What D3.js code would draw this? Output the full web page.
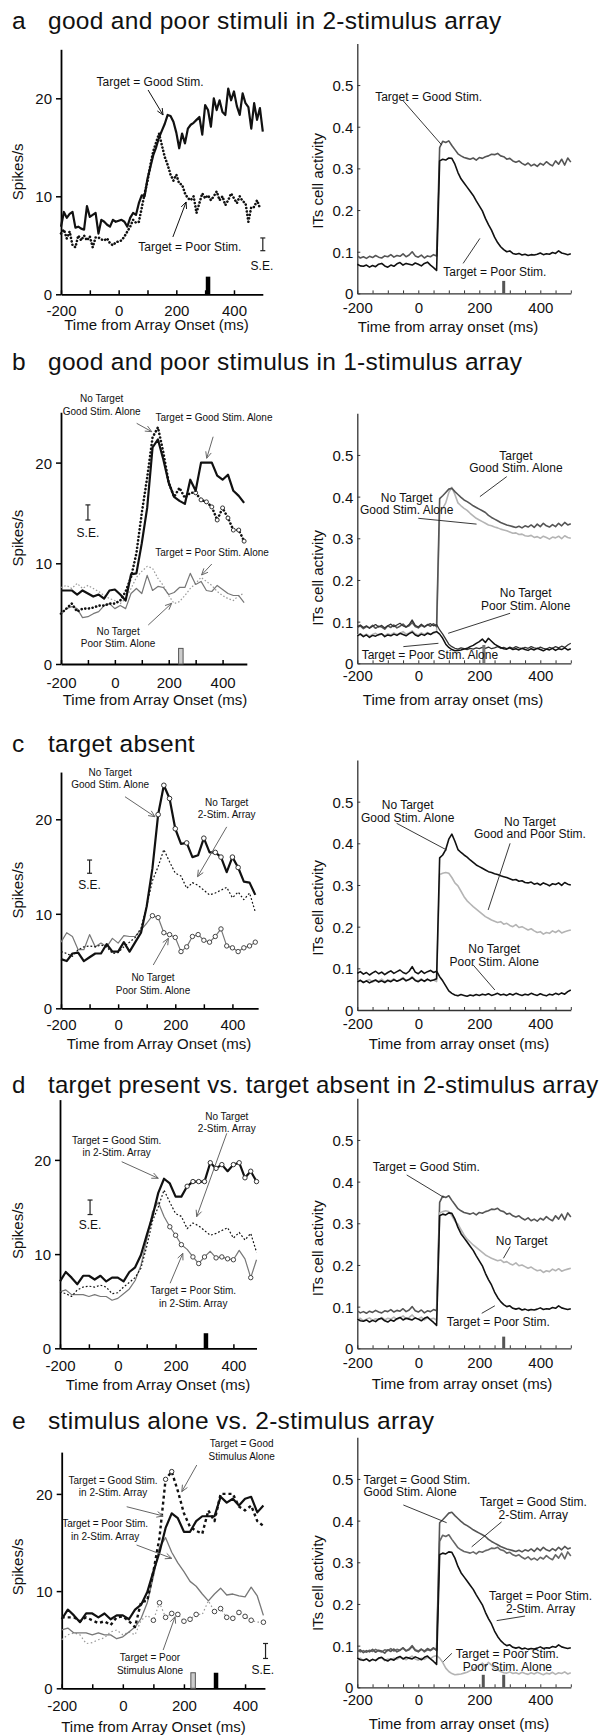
<!DOCTYPE html>
<html><head><meta charset="utf-8">
<script src="https://cdn.jsdelivr.net/npm/d3@7"></script>
<style>
html,body{margin:0;padding:0;background:#fff;}
svg{display:block;}
</style></head><body>
<svg id="fig" width="616" height="1736"></svg>
<script>
// ================= DATA =================
// tick definitions
const LEFT_X_TICKS = [-200,-100,0,100,200,300,400];
const LEFT_X_LABELS = [-200,0,200,400];
const LEFT_Y_TICKS = [0,10,20];
const RIGHT_X_TICKS = [-200,-150,-100,-50,0,50,100,150,200,250,300,350,400,450,500];
const RIGHT_X_LABELS = [-200,0,200,400];
const RIGHT_Y_TICKS = [0,0.1,0.2,0.3,0.4,0.5];

// panel titles
const panelLetters = ["a","b","c","d","e"];
const panelTitles = [
  "good and poor stimuli in 2-stimulus array",
  "good and poor stimulus in 1-stimulus array",
  "target absent",
  "target present vs. target absent in 2-stimulus array",
  "stimulus alone vs. 2-stimulus array"
];

// ---- recorded spikes/s, panel a : 10 ms bins starting at -200 ms ----
const aGoodSpikes = [6.9,8.4,7.8,8.2,8.4,6.8,6.9,6.7,6.6,9.0, 7.9,8.1,8.3,6.2,7.6,7.4,7.1,6.9,7.6,7.4,
  7.5,7.6,7.4,6.9,7.8,8.3,8.1,9.3,10.1,10.0, 11.8,13.0,14.2,15.0,16.0,16.7,17.4,18.3,18.2,17.6,
  16.5,14.9,16.4,15.4,16.9,17.3,17.5,17.8,18.1,16.3, 19.3,18.8,17.1,20.0,18.8,19.8,18.6,18.3,21.0,19.8,
  20.7,19.2,18.3,20.5,19.5,19.1,16.9,19.5,17.8,19.0, 16.6];
const aPoorSpikes = [6.2,6.6,5.7,6.4,5.0,4.8,6.0,5.5,6.0,5.5, 5.9,4.8,5.8,5.8,5.6,5.5,5.7,5.2,5.0,5.3,
  5.4,5.5,5.9,6.4,6.9,7.6,7.3,7.4,8.8,10.3, 11.5,13.2,14.6,15.5,16.4,15.2,14.0,13.2,12.2,11.6,
  12.2,11.3,11.2,10.3,9.8,9.6,10.0,8.3,9.3,10.3, 9.8,10.1,9.6,10.0,10.5,9.6,10.0,9.1,9.6,10.3,
  9.8,9.3,10.0,9.5,9.3,7.4,8.9,8.9,9.6,8.8];

// ---- recorded spikes/s, panels b-e : 20 ms bins starting at -200 ms ----
const goodAloneTargetSpikes = [7.3,7.3,7.3,6.9,7.3,7.0,6.7,6.9,6.5,7.3,7.4,6.9,6.3,8.9,9.0,12.0,15.5,21.5,22.3,20.3,
  18.0,16.6,16.2,15.9,18.3,17.2,20.0,20.0,20.0,18.7,18.3,18.8,17.2,16.7,16.0];
const goodAloneNoTargetSpikes = [5.0,5.5,6.0,5.2,5.5,5.5,5.6,5.8,5.8,6.0,6.0,6.3,7.2,8.6,11.0,15.0,18.5,22.5,23.5,21.0,
  18.0,16.6,17.5,16.5,17.0,17.0,16.3,16.1,15.6,14.3,15.5,14.5,13.3,13.3,12.2];
const poorAloneTargetSpikes = [5.0,5.5,5.7,5.5,4.6,4.7,5.0,5.2,5.8,6.0,5.5,5.8,5.5,7.0,7.5,7.0,8.8,7.3,7.7,7.6,
  6.9,7.1,7.6,7.6,9.0,7.9,8.2,7.3,7.2,7.8,7.4,7.0,6.8,6.8,6.1];
const poorAloneNoTargetSpikes = [7.6,7.8,7.5,8.0,7.5,7.8,7.5,7.2,6.8,6.5,6.3,6.0,6.5,7.5,8.6,9.2,9.7,9.5,8.5,7.8,
  6.8,6.0,6.2,6.8,7.5,8.0,8.6,8.2,7.8,7.2,6.8,6.5,6.3,6.8,7.0];
const cGoodAloneNoTargetSpikes = [5.2,5.0,5.8,5.9,5.0,5.4,5.8,5.8,6.8,6.0,6.0,7.0,6.0,7.0,8.0,10.8,14.8,20.5,23.6,22.2,
  19.0,17.4,17.5,16.0,16.2,18.0,16.5,16.5,16.0,14.4,16.0,14.9,13.4,13.3,12.0];
const cPoorAloneNoTargetSpikes = [7.0,8.0,7.6,6.2,6.2,7.8,6.5,6.9,6.5,7.4,6.9,7.7,7.6,7.6,8.3,9.0,9.8,9.6,8.0,7.8,
  7.5,6.0,6.5,7.6,7.8,7.2,7.0,7.6,8.4,6.6,6.4,6.0,6.4,6.6,7.0];
const noTarget2StimSpikes = [6.0,5.8,5.5,6.2,6.5,6.6,6.5,6.7,6.5,5.8,5.9,6.5,7.0,7.5,8.5,10.8,13.5,15.0,16.8,15.5,
  14.3,14.0,12.7,13.3,13.0,12.5,12.0,12.2,12.5,12.8,11.7,12.3,11.5,12.2,10.2];
const good2StimSpikes = [7.1,8.1,7.5,6.8,7.7,7.7,7.3,7.7,7.1,7.5,7.5,7.1,8.1,8.6,9.9,12.0,14.0,16.5,18.0,17.5,
  16.1,16.1,17.2,17.7,17.7,17.7,19.7,19.1,19.5,18.8,19.5,19.7,18.1,18.8,17.7];
const poor2StimSpikes = [6.0,6.2,5.7,5.7,5.7,5.5,5.7,5.5,5.5,5.1,5.3,5.8,6.3,7.2,8.8,11.5,14.5,15.5,14.0,12.9,
  12.0,11.0,10.5,9.7,9.0,9.7,10.3,9.6,9.7,9.5,9.4,10.4,9.5,7.5,9.4];

// circle marker times (ms)
const cGoodCircleTimes = [140,160,180,200,240,300,340,360,400,420];
const cPoorCircleTimes = [120,140,160,180,200,220,240,260,280,300,320,340,360,380,400,420,440,460,480];
const bNoTargetCircleTimes = [300,320,340,360,380,400,420,440,460,480];
const dGoodCircleTimes = [240,260,280,300,320,340,360,400,420,440,460,480];
const dPoorCircleTimes = [180,200,220,260,280,300,340,360,380,400,460];
const eGoodAloneCircleTimes = [140,160];
const ePoorAloneCircleTimes = [100,120,140,160,180,200,220,240,300,320,340,360,380,400,420,460];

// ---- model ITs cell activity : 10 ms steps starting at -200 ms ----
const modelGood2Stim = [0.090,0.085,0.088,0.084,0.089,0.086,0.091,0.087,0.085,0.090,0.088,0.093,0.087,0.091,0.089,0.095,0.088,0.092,0.100,0.090,0.087,0.092,0.085,0.090,0.088,0.093,0.090,
  0.350,0.365,0.362,0.366,0.355,0.345,0.335,0.330,0.326,0.324,0.322,0.325,0.320,0.326,0.324,0.328,0.330,0.334,0.333,0.336,0.330,0.328,0.322,0.324,0.318,0.315,0.318,0.312,0.308,0.313,0.306,0.310,0.305,0.312,0.308,0.316,0.310,0.306,0.318,0.310,0.322,0.308,0.325,0.315];
const modelPoor2Stim = [0.070,0.066,0.065,0.068,0.063,0.067,0.064,0.070,0.072,0.066,0.063,0.068,0.065,0.071,0.074,0.068,0.072,0.070,0.068,0.073,0.070,0.066,0.072,0.075,0.068,0.062,0.055,
  0.318,0.322,0.320,0.325,0.324,0.310,0.290,0.275,0.265,0.255,0.245,0.235,0.222,0.210,0.198,0.180,0.165,0.152,0.135,0.122,0.112,0.105,0.100,0.102,0.096,0.094,0.096,0.092,0.094,0.091,0.093,0.092,0.094,0.097,0.093,0.095,0.094,0.098,0.096,0.102,0.097,0.095,0.093,0.095];
const modelNoTarget2Stim = [0.068,0.072,0.066,0.070,0.073,0.067,0.071,0.069,0.074,0.068,0.072,0.070,0.075,0.069,0.073,0.078,0.071,0.074,0.080,0.072,0.070,0.075,0.068,0.073,0.070,0.072,0.068,
  0.325,0.328,0.330,0.328,0.318,0.305,0.298,0.285,0.272,0.262,0.255,0.248,0.242,0.236,0.230,0.224,0.220,0.216,0.213,0.210,0.212,0.206,0.208,0.203,0.200,0.205,0.198,0.200,0.196,0.192,0.195,0.190,0.186,0.188,0.182,0.186,0.184,0.190,0.186,0.191,0.185,0.188,0.190,0.192];
const modelGoodAloneTarget = [0.086,0.090,0.083,0.088,0.085,0.091,0.084,0.089,0.087,0.082,0.090,0.086,0.092,0.085,0.089,0.094,0.087,0.090,0.098,0.088,0.085,0.091,0.087,0.093,0.089,0.095,0.088,
  0.395,0.402,0.410,0.418,0.420,0.412,0.405,0.398,0.392,0.388,0.383,0.378,0.374,0.370,0.366,0.362,0.355,0.350,0.346,0.342,0.338,0.335,0.332,0.330,0.328,0.326,0.329,0.325,0.330,0.327,0.332,0.326,0.334,0.328,0.336,0.330,0.327,0.333,0.328,0.336,0.330,0.338,0.332,0.335];
const modelGoodAloneNoTarget = [0.068,0.071,0.066,0.070,0.065,0.069,0.072,0.067,0.070,0.066,0.071,0.068,0.073,0.069,0.072,0.076,0.070,0.073,0.078,0.071,0.068,0.073,0.069,0.074,0.070,0.072,0.075,
  0.365,0.372,0.385,0.410,0.422,0.405,0.385,0.378,0.372,0.367,0.360,0.354,0.348,0.344,0.340,0.336,0.332,0.330,0.327,0.325,0.322,0.320,0.318,0.315,0.312,0.313,0.309,0.310,0.306,0.305,0.307,0.302,0.304,0.300,0.305,0.302,0.298,0.303,0.301,0.305,0.299,0.306,0.302,0.300];
const modelPoorAloneTarget = [0.066,0.070,0.064,0.068,0.062,0.067,0.065,0.069,0.071,0.064,0.068,0.066,0.070,0.067,0.072,0.069,0.066,0.071,0.075,0.068,0.065,0.070,0.067,0.072,0.069,0.074,0.076,
  0.070,0.060,0.046,0.038,0.033,0.030,0.031,0.032,0.034,0.036,0.040,0.043,0.048,0.052,0.058,0.050,0.060,0.053,0.046,0.042,0.038,0.035,0.034,0.037,0.033,0.035,0.032,0.036,0.033,0.031,0.035,0.032,0.036,0.033,0.030,0.034,0.032,0.036,0.031,0.035,0.033,0.037,0.032,0.035];
const modelPoorAloneNoTarget = [0.088,0.092,0.086,0.090,0.084,0.089,0.093,0.087,0.091,0.085,0.090,0.094,0.088,0.092,0.096,0.090,0.087,0.093,0.104,0.091,0.087,0.094,0.088,0.092,0.095,0.090,0.093,
  0.080,0.070,0.058,0.046,0.040,0.036,0.034,0.037,0.035,0.033,0.036,0.034,0.037,0.035,0.038,0.036,0.039,0.035,0.037,0.040,0.036,0.038,0.035,0.039,0.036,0.040,0.037,0.035,0.038,0.036,0.040,0.037,0.035,0.039,0.036,0.034,0.038,0.036,0.040,0.037,0.041,0.038,0.044,0.048];

// ================= DRAWING =================
const FONT = '"Liberation Sans", Arial, Helvetica, sans-serif';
const BLACK = "#111", DARK = "#555", LIGHT = "#b4b4b4", MID = "#777";
const svg = d3.select("#fig").attr("font-family", FONT);
svg.append("rect").attr("width", 616).attr("height", 1736).attr("fill", "#fff");

const series = (vals, start, step) => vals.map((v, i) => ({t: start + i * step, v}));

function makePanel(cfg, right) {
  const x = d3.scaleLinear().domain([-200, cfg.xEnd]).range([cfg.left, cfg.left + (cfg.xEnd + 200) * cfg.ppm]);
  const y = d3.scaleLinear().domain([0, cfg.yTop]).range([cfg.bottom, cfg.bottom - cfg.yTop * cfg.ppu]);
  const g = svg.append("g");
  const axisColor = right ? "#333" : "#000";
  const w = right ? 1.3 : 1.8;
  const xa = d3.axisBottom(x).tickValues(right ? RIGHT_X_TICKS : LEFT_X_TICKS)
    .tickFormat(d => (right ? RIGHT_X_LABELS : LEFT_X_LABELS).includes(d) ? String(d) : "")
    .tickSizeInner(right ? -3 : -4).tickSizeOuter(0);
  const ya = d3.axisLeft(y).tickValues(right ? RIGHT_Y_TICKS : LEFT_Y_TICKS)
    .tickFormat(d => right ? (d === 0 ? "0" : d.toFixed(1)) : String(d))
    .tickSizeInner(right ? -3 : 5).tickSizeOuter(0);
  const gx = g.append("g").attr("transform", `translate(0,${cfg.bottom})`).call(xa);
  const gy = g.append("g").attr("transform", `translate(${cfg.left},0)`).call(ya);
  [gx, gy].forEach(a => {
    a.attr("font-family", FONT).attr("font-size", 15);
    a.select(".domain").attr("stroke", axisColor).attr("stroke-width", w);
    a.selectAll(".tick line").attr("stroke", axisColor).attr("stroke-width", right ? 1 : 1.5);
    a.selectAll("text").attr("fill", "#111");
  });
  gx.selectAll("text").attr("y", cfg.tickBase).attr("dy", null);
  gy.selectAll("text").attr("x", right ? -4 : -9).attr("dy", "0.36em");
  // axis titles
  g.append("text").attr("x", cfg.labelX).attr("y", cfg.bottom + cfg.labelBase)
    .attr("text-anchor", "middle").attr("font-size", 15).attr("fill", "#111")
    .text(right ? "Time from array onset (ms)" : "Time from Array Onset (ms)");
  const yl = right ? 322.5 : 23;
  const yc = y(cfg.ylabV);
  g.append("text").attr("transform", `translate(${yl},${yc}) rotate(-90)`)
    .attr("text-anchor", "middle").attr("font-size", 15).attr("fill", "#111")
    .text(right ? "ITs cell activity" : "Spikes/s");
  return {g, x, y, cfg};
}

function line(P, data, st) {
  const d = data.filter(p => p.t <= P.cfg.xEnd + 0.5);
  P.g.append("path").datum(d).attr("fill", "none")
    .attr("stroke", st.color).attr("stroke-width", st.width)
    .attr("stroke-dasharray", st.dash || null)
    .attr("stroke-linecap", st.cap || "butt").attr("stroke-linejoin", "round")
    .attr("d", d3.line().x(p => P.x(p.t)).y(p => P.y(p.v)));
}
function circles(P, data, times, color, r) {
  P.g.selectAll(null).data(data.filter(p => times.includes(p.t) && p.t <= P.cfg.xEnd + 0.5)).join("circle")
    .attr("cx", p => P.x(p.t)).attr("cy", p => P.y(p.v)).attr("r", r || 2.3)
    .attr("fill", "#fff").attr("stroke", color).attr("stroke-width", 1);
}
function bar(P, b) {
  const w = b.w || 4.5;
  P.g.append("rect").attr("x", P.x(b.t) - w / 2).attr("y", P.y(b.h))
    .attr("width", w).attr("height", P.y(0) - P.y(b.h))
    .attr("fill", b.fill).attr("stroke", b.stroke || "none").attr("stroke-width", b.stroke ? 1 : 0);
}
function se(P, s) {
  const xx = P.x(s.t), y1 = P.y(s.lo), y2 = P.y(s.hi);
  const gg = P.g.append("g").attr("stroke", "#222").attr("stroke-width", 1.2);
  gg.append("line").attr("x1", xx).attr("x2", xx).attr("y1", y1).attr("y2", y2);
  gg.append("line").attr("x1", xx - 2.5).attr("x2", xx + 2.5).attr("y1", y1).attr("y2", y1);
  gg.append("line").attr("x1", xx - 2.5).attr("x2", xx + 2.5).attr("y1", y2).attr("y2", y2);
  P.g.append("text").attr("x", P.x(s.labelT)).attr("y", P.y(s.labelV)).attr("text-anchor", "middle")
    .attr("font-size", 12).attr("fill", "#111").text("S.E.");
}
function notes(P, list, opts) {
  list.forEach(n => {
    const tx = P.x(n.t), ty = P.y(n.v);
    const t = P.g.append("text").attr("font-size", opts.size).attr("fill", "#111")
      .attr("text-anchor", n.anchor || "middle");
    n.lines.forEach((s, i) => t.append("tspan").attr("x", tx).attr("y", ty + i * opts.lh).text(s));
    const x1 = P.x(n.from[0]), y1 = P.y(n.from[1]), x2 = P.x(n.to[0]), y2 = P.y(n.to[1]);
    P.g.append("line").attr("x1", x1).attr("y1", y1).attr("x2", x2).attr("y2", y2)
      .attr("stroke", opts.color).attr("stroke-width", opts.lw);
    if (opts.head) {
      const a = Math.atan2(y2 - y1, x2 - x1), L = 7, h = 0.42;
      const p1 = [x2 - L * Math.cos(a - h), y2 - L * Math.sin(a - h)];
      const p2 = [x2 - L * Math.cos(a + h), y2 - L * Math.sin(a + h)];
      P.g.append("path").attr("d", `M${p1[0]},${p1[1]}L${x2},${y2}L${p2[0]},${p2[1]}`)
        .attr("fill", "none").attr("stroke", opts.color).attr("stroke-width", opts.lw);
    }
  });
}

// titles
const titleBase = [29, 370, 752, 1093, 1429];
const titleSize = [24.5, 24.5, 24.5, 24, 24.5];
panelLetters.forEach((L, i) => {
  svg.append("text").attr("x", 12).attr("y", titleBase[i]).attr("font-size", titleSize[i]).attr("fill", "#111").text(L);
  svg.append("text").attr("x", 48).attr("y", titleBase[i]).attr("font-size", titleSize[i])
    .attr("letter-spacing", 0.3).attr("fill", "#111").text(panelTitles[i]);
});

const R = {left: 357.3, ppm: 0.305, xEnd: 500, yTop: 0.6, ppu: 416.7};
const leftNoteOpts = {size: 10, lh: 12.5, color: "#666", lw: 1, head: true};
const rightNoteOpts = {size: 12, lh: 12.5, color: "#222", lw: 0.9, head: false};

// -------- panel a --------
{
  const P = makePanel({left: 61, bottom: 294.3, ppm: 0.2883, ppu: 9.8, xEnd: 500, yTop: 25, tickBase: 22, labelBase: 36, labelX: 156.5, ylabV: 12.5}, false);
  line(P, series(aPoorSpikes, -200, 10), {color: BLACK, width: 2.6, dash: "0.1,3.4", cap: "round"});
  line(P, series(aGoodSpikes, -200, 10), {color: BLACK, width: 2.2});
  bar(P, {t: 310, h: 1.8, fill: "#000"});
  se(P, {t: 500, lo: 4.45, hi: 5.75, labelT: 497, labelV: 2.48});
  notes(P, [
    {lines: ["Target = Good Stim."], t: 109, v: 21.24, from: [102, 20.85], to: [154, 18.3]},
    {lines: ["Target = Poor Stim."], t: 247, v: 4.42, from: [188, 5.85], to: [234, 9.42]}
  ], {size: 12, lh: 13, color: "#111", lw: 1, head: true});

  const Q = makePanel(Object.assign({}, R, {bottom: 293.4, tickBase: 20, labelBase: 39, labelX: 448, ylabV: 0.27}), true);
  line(Q, series(modelGood2Stim, -200, 10), {color: DARK, width: 1.6});
  line(Q, series(modelPoor2Stim, -200, 10), {color: BLACK, width: 1.6});
  bar(Q, {t: 280, h: 0.03, fill: DARK, w: 3});
  notes(Q, [
    {lines: ["Target = Good Stim."], t: 34, v: 0.462, from: [-49, 0.4617], to: [77, 0.356]},
    {lines: ["Target = Poor Stim."], t: 251, v: 0.042, from: [147, 0.072], to: [202, 0.132]}
  ], rightNoteOpts);
}

// -------- panel b --------
{
  const P = makePanel({left: 61, bottom: 664, ppm: 0.2693, ppu: 10.07, xEnd: 490, yTop: 25, tickBase: 24, labelBase: 41, labelX: 155, ylabV: 12.5}, false);
  line(P, series(poorAloneNoTargetSpikes, -200, 20), {color: "#999", width: 1.2, dash: "1.5,2"});
  line(P, series(poorAloneTargetSpikes, -200, 20), {color: MID, width: 1.2});
  const nt = series(goodAloneNoTargetSpikes, -200, 20);
  line(P, nt, {color: BLACK, width: 2.6, dash: "0.1,3.6", cap: "round"});
  circles(P, nt, bNoTargetCircleTimes, "#333", 2);
  line(P, series(goodAloneTargetSpikes, -200, 20), {color: BLACK, width: 2.2});
  bar(P, {t: 245, h: 1.55, fill: "#ccc", stroke: "#555"});
  se(P, {t: -100, lo: 14.3, hi: 15.8, labelT: -100, labelV: 12.6});
  notes(P, [
    {lines: ["No Target", "Good Stim. Alone"], t: -49, v: 25.97, from: [81, 23.9], to: [137, 23.07]},
    {lines: ["Target = Good Stim. Alone"], t: 368, v: 24.18, from: [365, 22.57], to: [341, 20.43]},
    {lines: ["Target = Poor Stim. Alone"], t: 361, v: 10.68, from: [360, 9.93], to: [322, 8.84]},
    {lines: ["No Target", "Poor Stim. Alone"], t: 12, v: 2.88, from: [124, 3.87], to: [211, 6.03]}
  ], leftNoteOpts);

  const Q = makePanel(Object.assign({}, R, {bottom: 663.3, tickBase: 18, labelBase: 42, labelX: 453, ylabV: 0.205}), true);
  line(Q, series(modelGoodAloneNoTarget, -200, 10), {color: LIGHT, width: 1.6});
  line(Q, series(modelGoodAloneTarget, -200, 10), {color: DARK, width: 1.6});
  line(Q, series(modelPoorAloneNoTarget, -200, 10), {color: "#333", width: 1.3});
  line(Q, series(modelPoorAloneTarget, -200, 10), {color: BLACK, width: 1.5});
  bar(Q, {t: 215, h: 0.044, fill: MID, w: 3});
  notes(Q, [
    {lines: ["Target", "Good Stim. Alone"], t: 320, v: 0.488, from: [290, 0.448], to: [202, 0.40]},
    {lines: ["No Target", "Good Stim. Alone"], t: -38, v: 0.388, from: [0, 0.348], to: [191, 0.334]},
    {lines: ["No Target", "Poor Stim. Alone"], t: 352, v: 0.159, from: [301, 0.12], to: [98, 0.072]},
    {lines: ["Target = Poor Stim. Alone"], t: 38, v: 0.0103, from: [-49, 0.04], to: [66, 0.048]}
  ], rightNoteOpts);
}

// -------- panel c --------
{
  const P = makePanel({left: 61, bottom: 1008.3, ppm: 0.2857, ppu: 9.45, xEnd: 490, yTop: 25, tickBase: 22, labelBase: 41, labelX: 159, ylabV: 12.5}, false);
  const pr = series(cPoorAloneNoTargetSpikes, -200, 20);
  line(P, pr, {color: MID, width: 1.2});
  circles(P, pr, cPoorCircleTimes, "#444", 2.2);
  line(P, series(noTarget2StimSpikes, -200, 20), {color: BLACK, width: 1.2, dash: "1.8,2"});
  const gd = series(cGoodAloneNoTargetSpikes, -200, 20);
  line(P, gd, {color: BLACK, width: 2.2});
  circles(P, gd, cGoodCircleTimes, "#333", 2.3);
  se(P, {t: -100, lo: 14.29, hi: 15.69, labelT: -100, labelV: 12.62});
  notes(P, [
    {lines: ["No Target", "Good Stim. Alone"], t: -28, v: 24.63, from: [24, 22.39], to: [129, 20.27]},
    {lines: ["No Target", "2-Stim. Array"], t: 380, v: 21.46, from: [380, 19.2], to: [278, 13.93]},
    {lines: ["No Target", "Poor Stim. Alone"], t: 122, v: 2.84, from: [123, 4.58], to: [176, 7.41]}
  ], leftNoteOpts);

  const Q = makePanel(Object.assign({}, R, {bottom: 1010, tickBase: 19, labelBase: 39, labelX: 459, ylabV: 0.245}), true);
  line(Q, series(modelNoTarget2Stim, -200, 10), {color: LIGHT, width: 1.6});
  line(Q, series(modelGoodAloneNoTarget, -200, 10), {color: BLACK, width: 1.6});
  line(Q, series(modelPoorAloneNoTarget, -200, 10), {color: BLACK, width: 1.6});
  notes(Q, [
    {lines: ["No Target", "Good Stim. Alone"], t: -35, v: 0.482, from: [-71, 0.448], to: [93, 0.384]},
    {lines: ["No Target", "Good and Poor Stim."], t: 366, v: 0.4416, from: [301, 0.4], to: [229, 0.24]},
    {lines: ["No Target", "Poor Stim. Alone"], t: 249, v: 0.1356, from: [180, 0.108], to: [251, 0.048]}
  ], rightNoteOpts);
}

// -------- panel d --------
{
  const P = makePanel({left: 60, bottom: 1348.3, ppm: 0.289, ppu: 9.42, xEnd: 480, yTop: 26.4, tickBase: 23, labelBase: 42, labelX: 158, ylabV: 12.5}, false);
  const pr = series(poor2StimSpikes, -200, 20);
  line(P, pr, {color: MID, width: 1.2});
  circles(P, pr, dPoorCircleTimes, "#444", 2.2);
  line(P, series(noTarget2StimSpikes, -200, 20), {color: BLACK, width: 1.2, dash: "1.8,2"});
  const gd = series(good2StimSpikes, -200, 20);
  line(P, gd, {color: BLACK, width: 2.2});
  circles(P, gd, dGoodCircleTimes, "#333", 2.2);
  bar(P, {t: 305, h: 1.6, fill: "#000"});
  se(P, {t: -96, lo: 14.2, hi: 15.74, labelT: -96, labelV: 12.66});
  notes(P, [
    {lines: ["No Target", "2-Stim. Array"], t: 377, v: 24.24, from: [377, 22.82], to: [273, 13.97]},
    {lines: ["Target = Good Stim.", "in 2-Stim. Array"], t: -4, v: 21.69, from: [13.5, 19.81], to: [140, 18.05]},
    {lines: ["Target = Poor Stim.", "in 2-Stim. Array"], t: 261, v: 5.76, from: [181, 6.9], to: [225, 10.08]}
  ], leftNoteOpts);

  const Q = makePanel(Object.assign({}, R, {bottom: 1348.3, tickBase: 20, labelBase: 41, labelX: 462, ylabV: 0.24}), true);
  line(Q, series(modelGood2Stim, -200, 10), {color: DARK, width: 1.6});
  line(Q, series(modelNoTarget2Stim, -200, 10), {color: LIGHT, width: 1.6});
  line(Q, series(modelPoor2Stim, -200, 10), {color: BLACK, width: 1.6});
  bar(Q, {t: 280, h: 0.028, fill: DARK, w: 3});
  notes(Q, [
    {lines: ["Target = Good Stim."], t: 26, v: 0.4255, from: [-38, 0.416], to: [84, 0.362]},
    {lines: ["No Target"], t: 339, v: 0.248, from: [301, 0.244], to: [279, 0.216]},
    {lines: ["Target = Poor Stim."], t: 262, v: 0.0535, from: [208, 0.084], to: [251, 0.102]}
  ], rightNoteOpts);
}

// -------- panel e --------
{
  const P = makePanel({left: 61.7, bottom: 1688.3, ppm: 0.3056, ppu: 9.72, xEnd: 465, yTop: 24.3, tickBase: 23, labelBase: 44, labelX: 153.5, ylabV: 12.5}, false);
  const pa = series(poorAloneTargetSpikes, -200, 20);
  line(P, pa, {color: "#999", width: 1.2, dash: "1.5,2.5"});
  circles(P, pa, ePoorAloneCircleTimes, "#444", 2.3);
  line(P, series(poor2StimSpikes, -200, 20), {color: MID, width: 1.3});
  const ga = series(goodAloneTargetSpikes, -200, 20);
  line(P, ga, {color: BLACK, width: 2.4, dash: "3,3"});
  circles(P, ga, eGoodAloneCircleTimes, "#333", 2.2);
  line(P, series(good2StimSpikes, -200, 20), {color: BLACK, width: 2.2});
  bar(P, {t: 230, h: 1.6, fill: "#ccc", stroke: "#555"});
  bar(P, {t: 305, h: 1.6, fill: "#000"});
  se(P, {t: 467, lo: 3.07, hi: 4.61, labelT: 458, labelV: 1.47});
  notes(P, [
    {lines: ["Target = Good", "Stimulus Alone"], t: 389, v: 24.82, from: [242, 22.97], to: [193, 20.23]},
    {lines: ["Target = Good Stim.", "in 2-Stim. Array"], t: -32, v: 21.02, from: [12.7, 18.68], to: [132, 17.73]},
    {lines: ["Target = Poor Stim.", "in 2-Stim. Array"], t: -58, v: 16.59, from: [45, 14.74], to: [160, 13.37]},
    {lines: ["Target = Poor", "Stimulus Alone"], t: 89, v: 2.76, from: [132, 3.94], to: [171, 7.37]}
  ], leftNoteOpts);

  const Q = makePanel(Object.assign({}, R, {bottom: 1687.3, tickBase: 18, labelBase: 42, labelX: 459, ylabV: 0.25}), true);
  line(Q, series(modelPoorAloneTarget, -200, 10), {color: LIGHT, width: 1.6});
  line(Q, series(modelGood2Stim, -200, 10), {color: "#666", width: 1.6});
  line(Q, series(modelGoodAloneTarget, -200, 10), {color: DARK, width: 1.6});
  line(Q, series(modelPoor2Stim, -200, 10), {color: BLACK, width: 1.6});
  bar(Q, {t: 213, h: 0.03, fill: DARK, w: 3});
  bar(Q, {t: 280, h: 0.03, fill: DARK, w: 3});
  notes(Q, [
    {lines: ["Target = Good Stim.", "Good Stim. Alone"], t: -180, v: 0.489, anchor: "start", from: [-49, 0.4375], to: [93, 0.395]},
    {lines: ["Target = Good Stim.", "2-Stim. Array"], t: 377, v: 0.435, from: [273, 0.397], to: [175, 0.337]},
    {lines: ["Target = Poor Stim.", "2-Stim. Array"], t: 401, v: 0.2095, from: [257, 0.16], to: [350, 0.171]},
    {lines: ["Target = Poor Stim.", "Poor Stim. Alone"], t: 292, v: 0.0703, from: [82, 0.0614], to: [110, 0.0816]}
  ], rightNoteOpts);
}
</script>
</body></html>
